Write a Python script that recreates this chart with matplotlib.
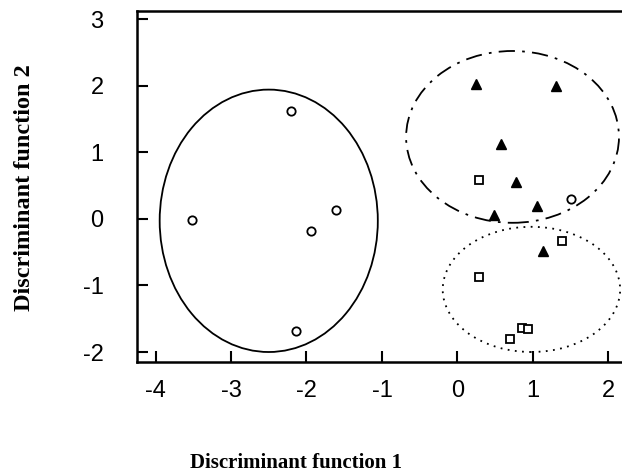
import matplotlib.pyplot as plt
from matplotlib.patches import Ellipse

# group 1 - open circles (left cluster)
circ_x = [-2.20, -3.52, -1.61, -1.94, -2.14, 1.50]
circ_y = [1.62, -0.02, 0.13, -0.19, -1.69, 0.30]

# group 2 - filled triangles
tri_x = [0.25, 1.31, 0.58, 0.77, 1.06, 0.48, 1.13]
tri_y = [2.03, 2.00, 1.13, 0.56, 0.19, 0.05, -0.49]

# group 3 - open squares
sq_x = [0.29, 1.39, 0.29, 0.86, 0.93, 0.69]
sq_y = [0.58, -0.33, -0.88, -1.64, -1.66, -1.80]

# group ellipses: centre x, centre y, width, height
ell_cx = [-2.50, 0.73, 0.98]
ell_cy = [-0.03, 1.23, -1.06]
ell_w = [2.89, 2.82, 2.35]
ell_h = [3.94, 2.58, 1.88]
ell_ls = ['-', (0, (9, 4, 1.5, 4)), (0, (1, 3))]

xticks = [-4, -3, -2, -1, 0, 1, 2]
xlabels = ['-4', '-3', '-2', '-1', '0', '1', '2']
yticks = [-2, -1, 0, 1, 2, 3]
ylabels = ['-2', '-1', '0', '1', '2', '3']

fig = plt.figure(figsize=(6.22, 4.75), dpi=100)
ax = fig.add_axes([0.2203, 0.2379, 0.7797, 0.7389])

for cx, cy, w, h, ls in zip(ell_cx, ell_cy, ell_w, ell_h, ell_ls):
    ax.add_patch(Ellipse((cx, cy), w, h, fill=False, edgecolor='black',
                         linewidth=1.3, linestyle=ls))

ax.plot(circ_x, circ_y, 'o', mfc='white', mec='black', ms=6, mew=1.3)
ax.plot(tri_x, tri_y, '^', mfc='black', mec='black', ms=7.5)
ax.plot(sq_x, sq_y, 's', mfc='white', mec='black', ms=6, mew=1.3)

ax.set_xlim(-4.245, 2.18)
ax.set_ylim(-2.15, 3.12)
tick_font = ['Liberation Sans', 'DejaVu Sans']
ax.set_xticks(xticks, xlabels, family=tick_font, fontsize=17)
ax.set_yticks(yticks, ylabels, family=tick_font, fontsize=17)

ax.tick_params(direction='in', length=8, width=1.5)
ax.tick_params(axis='x', pad=13)
ax.tick_params(axis='y', pad=24)

for side in ['left', 'top', 'bottom']:
    ax.spines[side].set_linewidth(1.8)
ax.spines['right'].set_visible(False)

label_font = ['Liberation Serif', 'DejaVu Serif']
fig.text(296 / 622, 1 - 463 / 475, 'Discriminant function 1', ha='center', va='center',
         family=label_font, fontweight='bold', fontsize=15)
fig.text(25 / 622, 1 - 188 / 475, 'Discriminant function 2', ha='center', va='center',
         rotation=90, family=label_font, fontweight='bold', fontsize=17.5)

fig.savefig('out.png', dpi=100)
